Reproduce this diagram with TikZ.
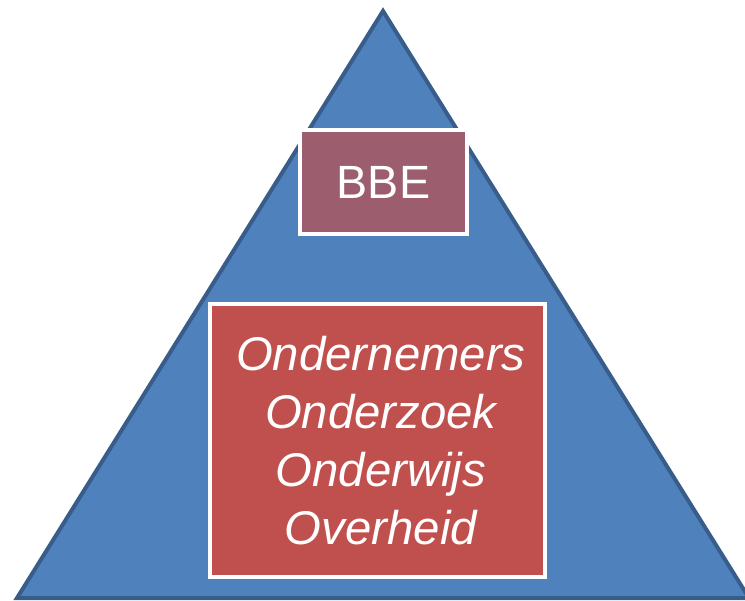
\documentclass[tikz,border=0pt]{standalone}
\usepackage{fontspec}
\setmainfont{Liberation Sans}
\usetikzlibrary{positioning}
\definecolor{pyramidblue}{RGB}{79,129,189}
\definecolor{pyramidedge}{RGB}{56,93,138}
\definecolor{bbemauve}{RGB}{156,94,110}
\definecolor{quadred}{RGB}{192,80,77}

\begin{document}
\begin{tikzpicture}[x=0.75pt,y=-0.75pt]
\useasboundingbox (0,0) rectangle (745,600);
\begin{scope}
\clip (0,0) rectangle (745,600);
\draw[fill=pyramidblue, draw=pyramidedge, line width=3pt] (383,11) -- (17,598) -- (749,598) -- cycle;
\end{scope}

\node[rectangle, draw=white, line width=3pt, fill=bbemauve, inner sep=0pt, minimum width=125pt, minimum height=78pt, text=white, font=\fontsize{35}{42}\selectfont] (bbe) at (383.5,182) {BBE};
\node[rectangle, draw=white, line width=3pt, fill=quadred, inner sep=0pt, minimum width=251pt, minimum height=205pt, text=white, align=center, font=\fontsize{35.5}{43.5}\selectfont\itshape] (actors) at (377.5,440.5) {\hspace*{5pt}Ondernemers\\\hspace*{5pt}Onderzoek\\\hspace*{5pt}Onderwijs\\\hspace*{5pt}Overheid};
\end{tikzpicture}
\end{document}
